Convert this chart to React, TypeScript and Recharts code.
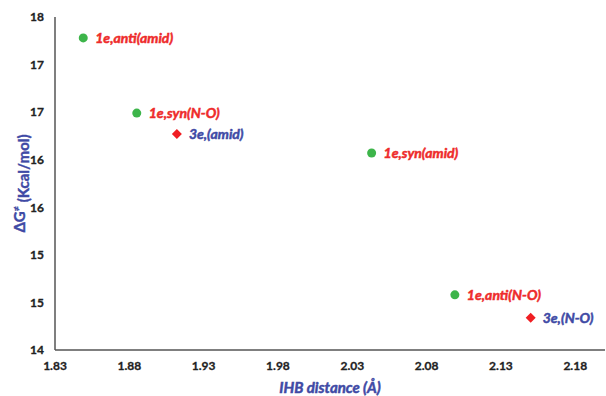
import { ScatterChart, Scatter, XAxis, YAxis, LabelList, Label } from "recharts";

// 1e conformers (green circles)
const oneENames = ["1e,anti(amid)", "1e,syn(N-O)", "1e,syn(amid)", "1e,anti(N-O)"];
const oneEDistance = [1.849, 1.885, 2.043, 2.099];
const oneEEnergy = [17.28, 16.49, 16.07, 14.58];

// 3e conformers (red diamonds)
const threeENames = ["3e,(amid)", "3e,(N-O)"];
const threeEDistance = [1.912, 2.15];
const threeEEnergy = [16.27, 14.34];

const xTicks = [1.83, 1.88, 1.93, 1.98, 2.03, 2.08, 2.13, 2.18];
const yTicks = [14, 14.5, 15, 15.5, 16, 16.5, 17, 17.5];

const oneEData = oneENames.map((name, i) => ({ name, x: oneEDistance[i], y: oneEEnergy[i] }));
const threeEData = threeENames.map((name, i) => ({ name, x: threeEDistance[i], y: threeEEnergy[i] }));

const GREEN = "#3db54a";
const RED = "#f01e23";
const LABEL_RED = "#ee2b2b";
const BLUE = "#3f4aa5";
const FONT = "Lato, 'Open Sans', sans-serif";

const Diamond = (props: any) => {
  const { cx, cy } = props;
  const s = 5;
  return <path d={`M${cx},${cy - s}L${cx + s},${cy}L${cx},${cy + s}L${cx - s},${cy}Z`} fill={RED} />;
};

const Dot = (props: any) => {
  const { cx, cy } = props;
  return <circle cx={cx} cy={cy} r={4.5} fill={GREEN} />;
};

// Lato bold is a bit light next to the original, so thicken with a thin stroke
const makeLabel = (color: string) => (props: any) => {
  const { x, y, width, height, value } = props;
  const cx = x + width / 2;
  const cy = y + height / 2;
  return (
    <text
      x={cx + 12}
      y={cy}
      dy="0.35em"
      fill={color}
      stroke={color}
      strokeWidth={0.5}
      fontFamily={FONT}
      fontSize={14}
      fontWeight="bold"
      fontStyle="italic"
    >
      {value}
    </text>
  );
};

const YTitle = (props: any) => {
  const { viewBox } = props;
  const cy = viewBox.y + viewBox.height / 2;
  const cx = 20;
  return (
    <text
      transform={`rotate(-90, ${cx}, ${cy})`}
      x={cx}
      y={cy}
      dy="0.35em"
      textAnchor="middle"
      fill={BLUE}
      stroke={BLUE}
      strokeWidth={0.4}
      fontFamily={FONT}
      fontSize={15}
      fontWeight="bold"
    >
      ΔG
      <tspan fontSize={9} dy="-0.6em">≠</tspan>
      <tspan dy="0.6em"> (Kcal/mol)</tspan>
    </text>
  );
};

const tickStyle = { fill: "#222", stroke: "#222", strokeWidth: 0.3, fontSize: 12, fontFamily: FONT, fontWeight: 700 };

export default function App() {
  return (
    <div style={{ position: "absolute", left: 0, top: 0, width: 606, height: 396, background: "#fff" }}>
      <ScatterChart width={606} height={396} margin={{ top: 17, right: 1, bottom: 0, left: 0 }}>
        <XAxis
          type="number"
          dataKey="x"
          domain={[1.83, 2.2]}
          ticks={xTicks}
          tickFormatter={(v) => v.toFixed(2)}
          tickLine={false}
          tickSize={0}
          tickMargin={11}
          axisLine={{ stroke: "#555", strokeWidth: 1.5 }}
          tick={tickStyle}
          height={46}
          allowDataOverflow
        >
          <Label
            value="IHB distance (Å)"
            position="insideBottom"
            offset={3}
            fill={BLUE}
            stroke={BLUE}
            strokeWidth={0.5}
            fontFamily={FONT}
            fontSize={15}
            fontWeight="bold"
            fontStyle="italic"
          />
        </XAxis>
        <YAxis
          type="number"
          dataKey="y"
          domain={[14, 17.5]}
          ticks={yTicks}
          tickFormatter={(v) => String(Math.round(v))}
          tickLine={false}
          tickSize={0}
          tickMargin={11}
          axisLine={{ stroke: "#555", strokeWidth: 1.5 }}
          tick={tickStyle}
          width={55}
        >
          <Label content={<YTitle />} />
        </YAxis>
        <Scatter data={oneEData} shape={<Dot />} isAnimationActive={false}>
          <LabelList dataKey="name" content={makeLabel(LABEL_RED)} />
        </Scatter>
        <Scatter data={threeEData} shape={<Diamond />} isAnimationActive={false}>
          <LabelList dataKey="name" content={makeLabel(BLUE)} />
        </Scatter>
      </ScatterChart>
    </div>
  );
}
